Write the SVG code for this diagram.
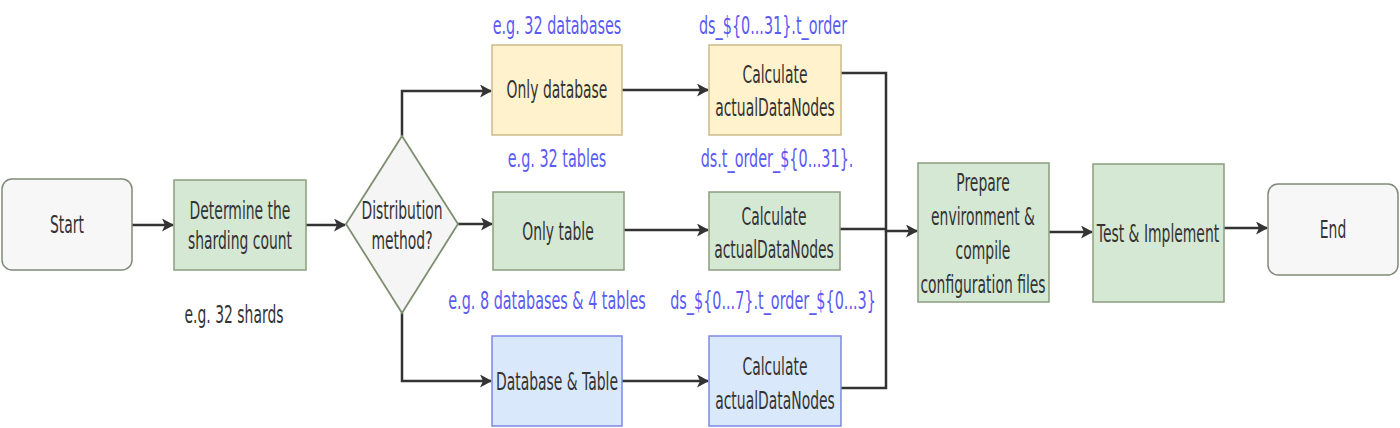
<svg xmlns="http://www.w3.org/2000/svg" width="1400" height="428" viewBox="0 0 1400 428">
<defs>
<style>
.t{font-family:"DejaVu Sans","Liberation Sans",sans-serif;font-size:24px;fill:#333;text-anchor:middle}
.lb{font-family:"DejaVu Sans","Liberation Sans",sans-serif;font-size:24.8px;fill:#5b5bf2;text-anchor:middle}
.term{fill:#f7f7f7;stroke:#808a7a;stroke-width:1.5}
.green{fill:#d5e8d4;stroke:#8c9d7e;stroke-width:1.5}
.yellow{fill:#fff2cc;stroke:#cbbb8c;stroke-width:1.5}
.blue{fill:#dae8fc;stroke:#7d88e6;stroke-width:1.5}
.dia{fill:#f5f5f5;stroke:#7f8f72;stroke-width:1.8}
.c{fill:none;stroke:#333;stroke-width:2.5}
</style>
<marker id="arr" markerWidth="12" markerHeight="13" refX="11" refY="6.5" orient="auto" markerUnits="userSpaceOnUse">
<path d="M0,0 L12,6.5 L0,13 L3,6.5 Z" fill="#333"/>
</marker>
</defs>
<rect width="1400" height="428" fill="#fff"/>

<g id="connectors">
<path class="c" d="M132,225 H173" marker-end="url(#arr)"/>
<path class="c" d="M306,225 H345" marker-end="url(#arr)"/>
<path class="c" d="M402,136 V91 H491" marker-end="url(#arr)"/>
<path class="c" d="M458,224 H492" marker-end="url(#arr)"/>
<path class="c" d="M402,313 V381 H491" marker-end="url(#arr)"/>
<path class="c" d="M622,90 H708" marker-end="url(#arr)"/>
<path class="c" d="M624,230 H708" marker-end="url(#arr)"/>
<path class="c" d="M622,381 H708" marker-end="url(#arr)"/>
<path class="c" d="M841,73 H886 V231 H917" marker-end="url(#arr)"/>
<path class="c" d="M840,229 H886"/>
<path class="c" d="M841,388 H886 V231"/>
<path class="c" d="M1049,232 H1092" marker-end="url(#arr)"/>
<path class="c" d="M1224,228 H1267" marker-end="url(#arr)"/>
</g>

<g id="start">
<rect class="term" x="2" y="179" width="130" height="91" rx="10"/>
<text class="t" transform="translate(67,233) scale(0.58,1)">Start</text>
</g>
<g id="determine">
<rect class="green" x="174" y="180" width="132" height="90"/>
<text class="t" transform="translate(240,219) scale(0.58,1)"><tspan x="0">Determine the</tspan><tspan x="0" dy="30">sharding count</tspan></text>
</g>
<g id="shards-label">
<text class="t" transform="translate(234,323) scale(0.58,1)">e.g. 32 shards</text>
</g>
<g id="distribution">
<polygon class="dia" points="402,136 458,224 402,313 346,224"/>
<text class="t" transform="translate(402,219) scale(0.58,1)"><tspan x="0">Distribution</tspan><tspan x="0" dy="30">method?</tspan></text>
</g>

<g id="only-database">
<rect class="yellow" x="492" y="45" width="130" height="90"/>
<text class="t" transform="translate(557,98) scale(0.58,1)">Only database</text>
</g>
<g id="calc-top">
<rect class="yellow" x="709" y="45" width="132" height="90"/>
<text class="t" transform="translate(775,83) scale(0.58,1)"><tspan x="0">Calculate</tspan><tspan x="0" dy="33">actualDataNodes</tspan></text>
</g>
<g id="only-table">
<rect class="green" x="493" y="192" width="131" height="78"/>
<text class="t" transform="translate(558,240) scale(0.58,1)">Only table</text>
</g>
<g id="calc-mid">
<rect class="green" x="709" y="192" width="131" height="78"/>
<text class="t" transform="translate(774,225) scale(0.58,1)"><tspan x="0">Calculate</tspan><tspan x="0" dy="33">actualDataNodes</tspan></text>
</g>
<g id="db-table">
<rect class="blue" x="492" y="336" width="130" height="90"/>
<text class="t" transform="translate(557,390) scale(0.58,1)">Database &amp; Table</text>
</g>
<g id="calc-bot">
<rect class="blue" x="709" y="336" width="132" height="90"/>
<text class="t" transform="translate(775,375) scale(0.58,1)"><tspan x="0">Calculate</tspan><tspan x="0" dy="34">actualDataNodes</tspan></text>
</g>

<g id="labels">
<text class="lb" transform="translate(557,34) scale(0.58,1)">e.g. 32 databases</text>
<text class="lb" transform="translate(773,34) scale(0.58,1)">ds_${0...31}.t_order</text>
<text class="lb" transform="translate(557,167) scale(0.58,1)">e.g. 32 tables</text>
<text class="lb" transform="translate(777,167) scale(0.58,1)">ds.t_order_${0...31}.</text>
<text class="lb" transform="translate(547,309) scale(0.58,1)">e.g. 8 databases &amp; 4 tables</text>
<text class="lb" transform="translate(773,309) scale(0.58,1)">ds_${0...7}.t_order_${0...3}</text>
</g>

<g id="prepare">
<rect class="green" x="918" y="163" width="131" height="139"/>
<text class="t" transform="translate(983,191) scale(0.58,1)"><tspan x="0">Prepare</tspan><tspan x="0" dy="34">environment &amp;</tspan><tspan x="0" dy="34">compile</tspan><tspan x="0" dy="34">configuration files</tspan></text>
</g>
<g id="test">
<rect class="green" x="1093" y="164" width="131" height="138"/>
<text class="t" transform="translate(1158,242) scale(0.58,1)">Test &amp; Implement</text>
</g>
<g id="end">
<rect class="term" x="1268" y="184" width="130" height="91" rx="10"/>
<text class="t" transform="translate(1333,238) scale(0.58,1)">End</text>
</g>
</svg>
